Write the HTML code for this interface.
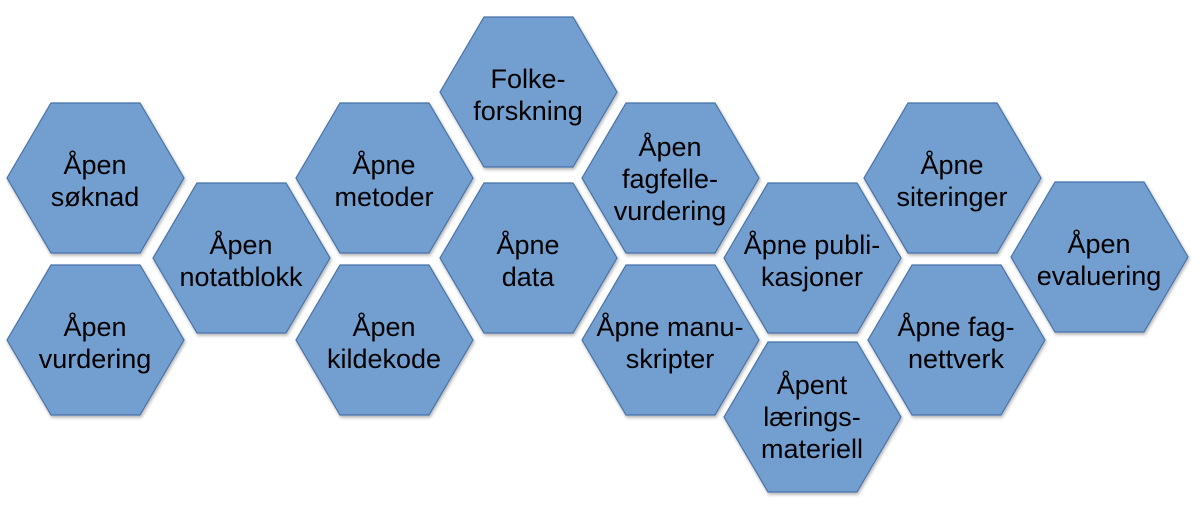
<!DOCTYPE html>
<html><head><meta charset="utf-8"><style>
html,body{margin:0;padding:0;background:#fff;}
svg text{font-family:"Liberation Sans",Arial,sans-serif;font-size:27px;fill:#000;text-anchor:middle;}
</style></head><body>
<svg width="1200" height="507" viewBox="0 0 1200 507" xmlns="http://www.w3.org/2000/svg">
<defs>
<filter id="sh" x="-10%" y="-10%" width="120%" height="120%"><feDropShadow dx="1" dy="2" stdDeviation="1.5" flood-color="#000" flood-opacity="0.3"/></filter>
<polygon id="hx" points="0,75 44,0 133,0 177,75 133,150 44,150" fill="#729fcf" stroke="#4a72a8" stroke-width="1.2"/>
</defs>
<g filter="url(#sh)">
<use href="#hx" x="7" y="103"/>
<use href="#hx" x="7" y="265"/>
<use href="#hx" x="153" y="183"/>
<use href="#hx" x="296" y="103"/>
<use href="#hx" x="296" y="265"/>
<use href="#hx" x="440" y="17"/>
<use href="#hx" x="440" y="183"/>
<use href="#hx" x="582" y="103"/>
<use href="#hx" x="582" y="265"/>
<use href="#hx" x="724" y="183"/>
<use href="#hx" x="724" y="342"/>
<use href="#hx" x="864" y="103"/>
<use href="#hx" x="868" y="265"/>
<use href="#hx" x="1011" y="182"/>
</g>
<text x="95" y="174">Åpen</text><text x="95" y="206">søknad</text>
<text x="95" y="336">Åpen</text><text x="95" y="368">vurdering</text>
<text x="241" y="254">Åpen</text><text x="241" y="286">notatblokk</text>
<text x="384" y="174">Åpne</text><text x="384" y="206">metoder</text>
<text x="384" y="336">Åpen</text><text x="384" y="368">kildekode</text>
<text x="528" y="88">Folke-</text><text x="528" y="120">forskning</text>
<text x="528" y="254">Åpne</text><text x="528" y="286">data</text>
<text x="670" y="156">Åpen</text><text x="670" y="188">fagfelle-</text><text x="670" y="220">vurdering</text>
<text x="670" y="336">Åpne manu-</text><text x="670" y="368">skripter</text>
<text x="812" y="254">Åpne publi-</text><text x="812" y="286">kasjoner</text>
<text x="812" y="394">Åpent</text><text x="812" y="426">lærings-</text><text x="812" y="458">materiell</text>
<text x="952" y="174">Åpne</text><text x="952" y="206">siteringer</text>
<text x="956" y="336">Åpne fag-</text><text x="956" y="368">nettverk</text>
<text x="1099" y="253">Åpen</text><text x="1099" y="285">evaluering</text>
</svg>
</body></html>
